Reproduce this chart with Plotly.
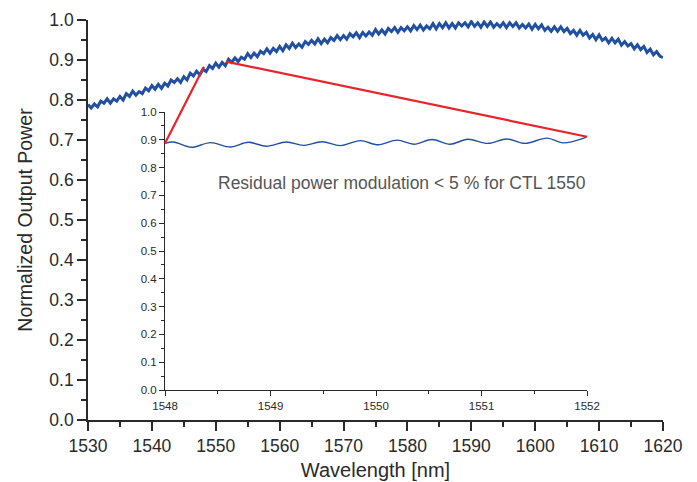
import plotly.graph_objects as go

# ---------------- data ----------------
main_start = 1530.0
main_step = 0.5
main_power = [
    .789, .780, .790, .783, .797, .792, .803, .792, .803, .797,
    .809, .800, .816, .809, .822, .812, .821, .816, .830, .823,
    .836, .827, .839, .829, .842, .835, .850, .844, .853, .844,
    .858, .850, .867, .860, .872, .863, .877, .871, .886, .879,
    .892, .882, .894, .886, .902, .894, .905, .896, .907, .902,
    .916, .906, .917, .908, .922, .916, .928, .917, .929, .921,
    .934, .923, .938, .929, .942, .931, .940, .932, .946, .939,
    .949, .940, .953, .941, .952, .943, .956, .949, .961, .951,
    .961, .952, .966, .958, .968, .956, .969, .960, .970, .962,
    .976, .965, .975, .965, .979, .971, .981, .969, .981, .973,
    .983, .973, .986, .976, .987, .975, .985, .978, .991, .978,
    .991, .981, .993, .980, .991, .980, .993, .985, .993, .983,
    .996, .984, .993, .982, .995, .984, .995, .982, .991, .983,
    .993, .981, .993, .984, .993, .980, .989, .980, .990, .977,
    .989, .978, .988, .974, .982, .972, .983, .972, .983, .971,
    .979, .966, .974, .962, .974, .962, .969, .955, .964, .951,
    .963, .949, .955, .943, .954, .943, .952, .937, .946, .935,
    .941, .928, .938, .926, .934, .919, .927, .913, .921, .910,
    .906,
]
main_wl = [main_start + main_step * i for i in range(len(main_power))]

inset_wl = [1548.00, 1548.08, 1548.25, 1548.43, 1548.62, 1548.79, 1548.96,
            1549.15, 1549.31, 1549.49, 1549.66, 1549.85, 1550.02, 1550.20,
            1550.36, 1550.53, 1550.70, 1550.87, 1551.06, 1551.24, 1551.41,
            1551.62, 1551.77, 1551.99]
inset_power = [0.887, 0.892, 0.873, 0.890, 0.874, 0.891, 0.877,
               0.892, 0.880, 0.893, 0.879, 0.897, 0.882, 0.899,
               0.884, 0.901, 0.884, 0.902, 0.887, 0.903, 0.887,
               0.906, 0.889, 0.909]

# zoom connector end points (data coordinates)
main_pts_wl = [1548.15, 1551.6]
main_pts_pw = [0.883, 0.896]
inset_pts_wl = [1548.0, 1552.0]
inset_pts_pw = [0.888, 0.911]

main_xrange = [1530, 1620]
main_yrange = [0.0, 1.0]
inset_xrange = [1548, 1552]
inset_yrange = [0.0, 1.0]

annotation_text = "Residual power modulation < 5 % for CTL 1550"
x_title = "Wavelength [nm]"
y_title = "Normalized Output Power"

# ---------------- layout geometry ----------------
W, H = 697, 482
ML, MR, MT, MB = 88, 34, 20, 62
inset_dx = [0.134, 0.868]
inset_dy = [0.075, 0.770]

BLUE = "#2150A2"
RED = "#E8232B"
INK = "#2a2a2a"
FONT = "Liberation Sans, Arial, Helvetica, sans-serif"

fig = go.Figure()
fig.add_trace(go.Scatter(x=main_wl, y=main_power, mode="lines",
                         line=dict(color=BLUE, width=3),
                         xaxis="x", yaxis="y", showlegend=False, hoverinfo="skip"))
fig.add_trace(go.Scatter(x=inset_wl, y=inset_power, mode="lines",
                         line=dict(color=BLUE, width=1.4, shape="spline", smoothing=1.0),
                         xaxis="x2", yaxis="y2", showlegend=False, hoverinfo="skip"))


def main_to_paper(x, y):
    px = (x - main_xrange[0]) / (main_xrange[1] - main_xrange[0])
    py = (y - main_yrange[0]) / (main_yrange[1] - main_yrange[0])
    return px, py


def inset_to_paper(x, y):
    fx = (x - inset_xrange[0]) / (inset_xrange[1] - inset_xrange[0])
    fy = (y - inset_yrange[0]) / (inset_yrange[1] - inset_yrange[0])
    return (inset_dx[0] + fx * (inset_dx[1] - inset_dx[0]),
            inset_dy[0] + fy * (inset_dy[1] - inset_dy[0]))


for i in range(2):
    x0, y0 = main_to_paper(main_pts_wl[i], main_pts_pw[i])
    x1, y1 = inset_to_paper(inset_pts_wl[i], inset_pts_pw[i])
    fig.add_shape(type="line", xref="paper", yref="paper",
                  x0=x0, y0=y0, x1=x1, y1=y1,
                  line=dict(color=RED, width=2.2), layer="above")

fig.add_annotation(x=1550.25, y=0.745, xref="x2", yref="y2",
                   text=annotation_text, showarrow=False,
                   font=dict(family=FONT, size=17.5, color="#555555"),
                   xanchor="center", yanchor="middle")

main_axis_common = dict(showgrid=False, zeroline=False, showline=True,
                        linecolor=INK, linewidth=1.6, ticks="outside",
                        ticklen=9, tickwidth=1.6, tickcolor=INK, automargin=False,
                        tickfont=dict(family=FONT, size=17.5, color=INK))
inset_axis_common = dict(showgrid=False, zeroline=False, showline=True,
                         linecolor=INK, linewidth=1.2, ticks="outside",
                         ticklen=5, tickwidth=1.2, tickcolor=INK, automargin=False,
                         tickfont=dict(family=FONT, size=11.5, color=INK))

fig.update_layout(
    width=W, height=H,
    margin=dict(l=ML, r=MR, t=MT, b=MB),
    paper_bgcolor="white", plot_bgcolor="rgba(0,0,0,0)",
    font=dict(family=FONT, color=INK),
    xaxis=dict(range=main_xrange, dtick=10, tick0=1530, domain=[0, 1], anchor="y",
               minor=dict(dtick=5, ticks="outside", ticklen=5, tickwidth=1.6, tickcolor=INK, showgrid=False),
               title=dict(text=x_title, font=dict(family=FONT, size=20, color=INK), standoff=8),
               **main_axis_common),
    yaxis=dict(range=main_yrange, dtick=0.1, tick0=0, tickformat=".1f", domain=[0, 1], anchor="x",
               minor=dict(dtick=0.05, ticks="outside", ticklen=5, tickwidth=1.6, tickcolor=INK, showgrid=False),
               title=dict(text=y_title, font=dict(family=FONT, size=19.5, color=INK), standoff=12),
               **main_axis_common),
    xaxis2=dict(range=inset_xrange, dtick=1, tick0=1548, domain=inset_dx, anchor="y2",
                minor=dict(dtick=0.5, ticks="outside", ticklen=3, tickwidth=1.2, tickcolor=INK, showgrid=False),
                **inset_axis_common),
    yaxis2=dict(range=inset_yrange, dtick=0.1, tick0=0, tickformat=".1f", domain=inset_dy, anchor="x2",
                minor=dict(dtick=0.05, ticks="outside", ticklen=3, tickwidth=1.2, tickcolor=INK, showgrid=False),
                **inset_axis_common),
)

fig.write_html("out.html")
